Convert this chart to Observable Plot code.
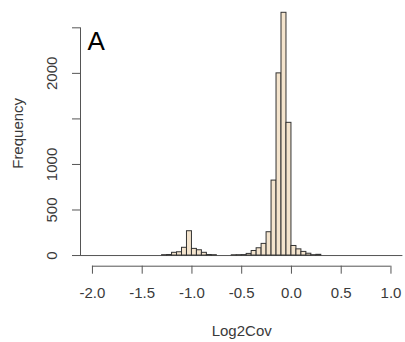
<!DOCTYPE html>
<html>
<head>
<meta charset="utf-8">
<script src="https://cdn.jsdelivr.net/npm/d3@7"></script>
<script src="https://cdn.jsdelivr.net/npm/@observablehq/plot@0.6"></script>
<style>
  html, body { margin: 0; padding: 0; background: #fff; }
</style>
</head>
<body>
<div id="chart"></div>
<script>
// ---- data ----
const binWidth = 0.05;
const binStarts = [-1.3, -1.25, -1.2, -1.15, -1.1, -1.05, -1.0, -0.95, -0.9, -0.85, -0.8,
                   -0.6, -0.55, -0.5, -0.45, -0.4, -0.35, -0.3, -0.25, -0.2, -0.15, -0.1, -0.05,
                   0.0, 0.05, 0.1, 0.15, 0.2, 0.25];
const counts =    [4, 6, 30, 36, 85, 267, 73, 58, 30, 6, 4,
                   3, 4, 5, 18, 50, 80, 128, 256, 823, 2000, 2665, 1457,
                   105, 68, 40, 20, 4, 8];
const xTicks = [-2.0, -1.5, -1.0, -0.5, 0.0, 0.5, 1.0];
const yTicks = [0, 500, 1000, 1500, 2000, 2500];
const yLabels = [0, 500, 1000, 2000];
const xTitle = "Log2Cov";
const yTitle = "Frequency";
const panelLetter = "A";

const bins = binStarts.map((s, i) => ({x1: s, x2: s + binWidth, count: counts[i]}));

const xDomain = [-2.12, 1.12];
const yDomain = [-117, 2800];
const textColor = "#3a3a3a";
const axisColor = "#555";

const chart = Plot.plot({
  width: 405,
  height: 342,
  marginLeft: 80,
  marginRight: 2.6,
  marginTop: 0,
  marginBottom: 76.3,
  style: {fontFamily: "Liberation Sans, Arial, sans-serif", fontSize: "15px", color: textColor, background: "#fff"},
  x: {domain: xDomain},
  y: {domain: yDomain},
  marks: [
    Plot.ruleY([0], {stroke: axisColor, strokeWidth: 1}),
    Plot.rectY(bins, {x1: "x1", x2: "x2", y: "count", fill: "#f4e4cd", stroke: "#333", strokeWidth: 1}),
    // y axis (R style: line spans first to last tick)
    Plot.ruleX([xDomain[0]], {y1: yTicks[0], y2: yTicks[yTicks.length - 1], stroke: axisColor}),
    Plot.axisY({ticks: yTicks, tickSize: 8, text: null, label: null, stroke: axisColor}),
    Plot.text(yLabels, {x: xDomain[0], y: d => d, text: d => String(d), rotate: -90, dx: -34,
      lineAnchor: "top", textAnchor: "middle", fill: textColor}),
    // x axis
    Plot.ruleY([yDomain[0]], {x1: xTicks[0], x2: xTicks[xTicks.length - 1], stroke: axisColor}),
    Plot.axisX({ticks: xTicks, tickSize: 8, tickPadding: 13, tickFormat: d => d.toFixed(1), label: null, stroke: axisColor, fill: textColor}),
    // titles
    Plot.text([xTitle], {frameAnchor: "bottom", dy: 59, lineAnchor: "top", textAnchor: "middle", fill: textColor}),
    Plot.text([yTitle], {frameAnchor: "left", dx: -68.5, rotate: -90, lineAnchor: "top", textAnchor: "middle", fill: textColor}),
    Plot.text([panelLetter], {frameAnchor: "top-left", dx: 7, dy: 31, lineAnchor: "top", textAnchor: "start", fontSize: 26, fill: "#000"})
  ]
});
document.getElementById("chart").appendChild(chart);
</script>
</body>
</html>
